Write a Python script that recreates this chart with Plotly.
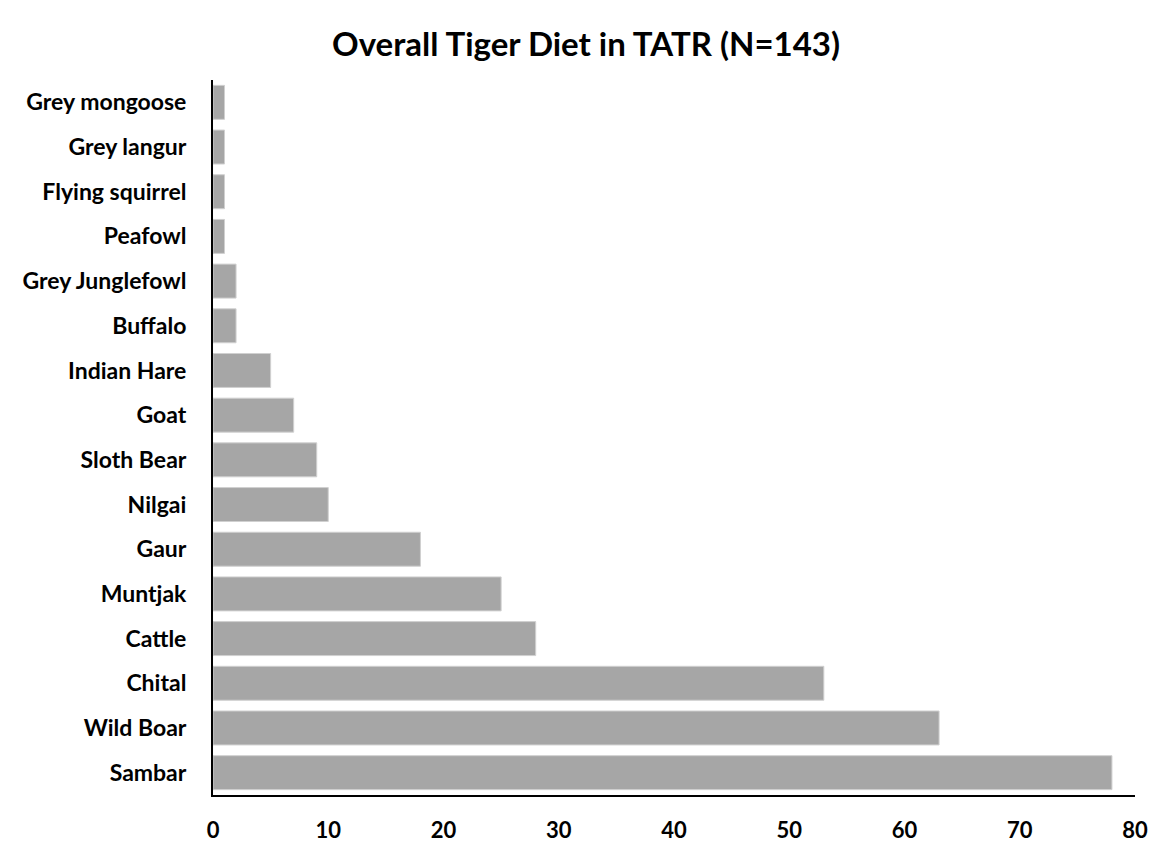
import plotly.graph_objects as go

# Prey species, listed bottom to top
prey = ["Sambar", "Wild Boar", "Chital", "Cattle", "Muntjak", "Gaur", "Nilgai",
        "Sloth Bear", "Goat", "Indian Hare", "Buffalo", "Grey Junglefowl",
        "Peafowl", "Flying squirrel", "Grey langur", "Grey mongoose"]
counts = [78, 63, 53, 28, 25, 18, 10, 9, 7, 5, 2, 2, 1, 1, 1, 1]
x_ticks = [0, 10, 20, 30, 40, 50, 60, 70, 80]

font_family = "Lato"

fig = go.Figure(
    go.Bar(
        x=counts,
        y=prey,
        orientation="h",
        marker=dict(color="#A6A6A6", line=dict(color="#D0D0D0", width=1)),
        hoverinfo="x+y",
    )
)

fig.update_layout(
    width=1156,
    height=843,
    paper_bgcolor="white",
    plot_bgcolor="white",
    margin=dict(l=213, r=21, t=80, b=48),
    bargap=0.24,
    showlegend=False,
    title=dict(
        text="<b>Overall Tiger Diet in TATR (N=143)</b>",
        x=0.507,
        xanchor="center",
        y=0.947,
        yanchor="middle",
        font=dict(family=font_family, size=33, color="black"),
    ),
)

fig.update_xaxes(
    range=[0, 80],
    tickvals=x_ticks,
    ticktext=[f"<b>{v}</b>" for v in x_ticks],
    showgrid=False,
    zeroline=False,
    showline=True,
    linecolor="black",
    linewidth=2,
    ticks="outside",
    ticklen=15,
    tickcolor="rgba(0,0,0,0)",
    tickfont=dict(family=font_family, size=22, color="black"),
    automargin=False,
)

fig.update_yaxes(
    type="category",
    categoryorder="array",
    categoryarray=prey,
    tickvals=prey,
    ticktext=[f"<b>{p}</b>" for p in prey],
    showgrid=False,
    zeroline=False,
    showline=True,
    linecolor="black",
    linewidth=2,
    ticks="outside",
    ticklen=20,
    tickcolor="rgba(0,0,0,0)",
    tickfont=dict(family=font_family, size=23, color="black"),
    automargin=False,
)

fig.write_html("out.html")
